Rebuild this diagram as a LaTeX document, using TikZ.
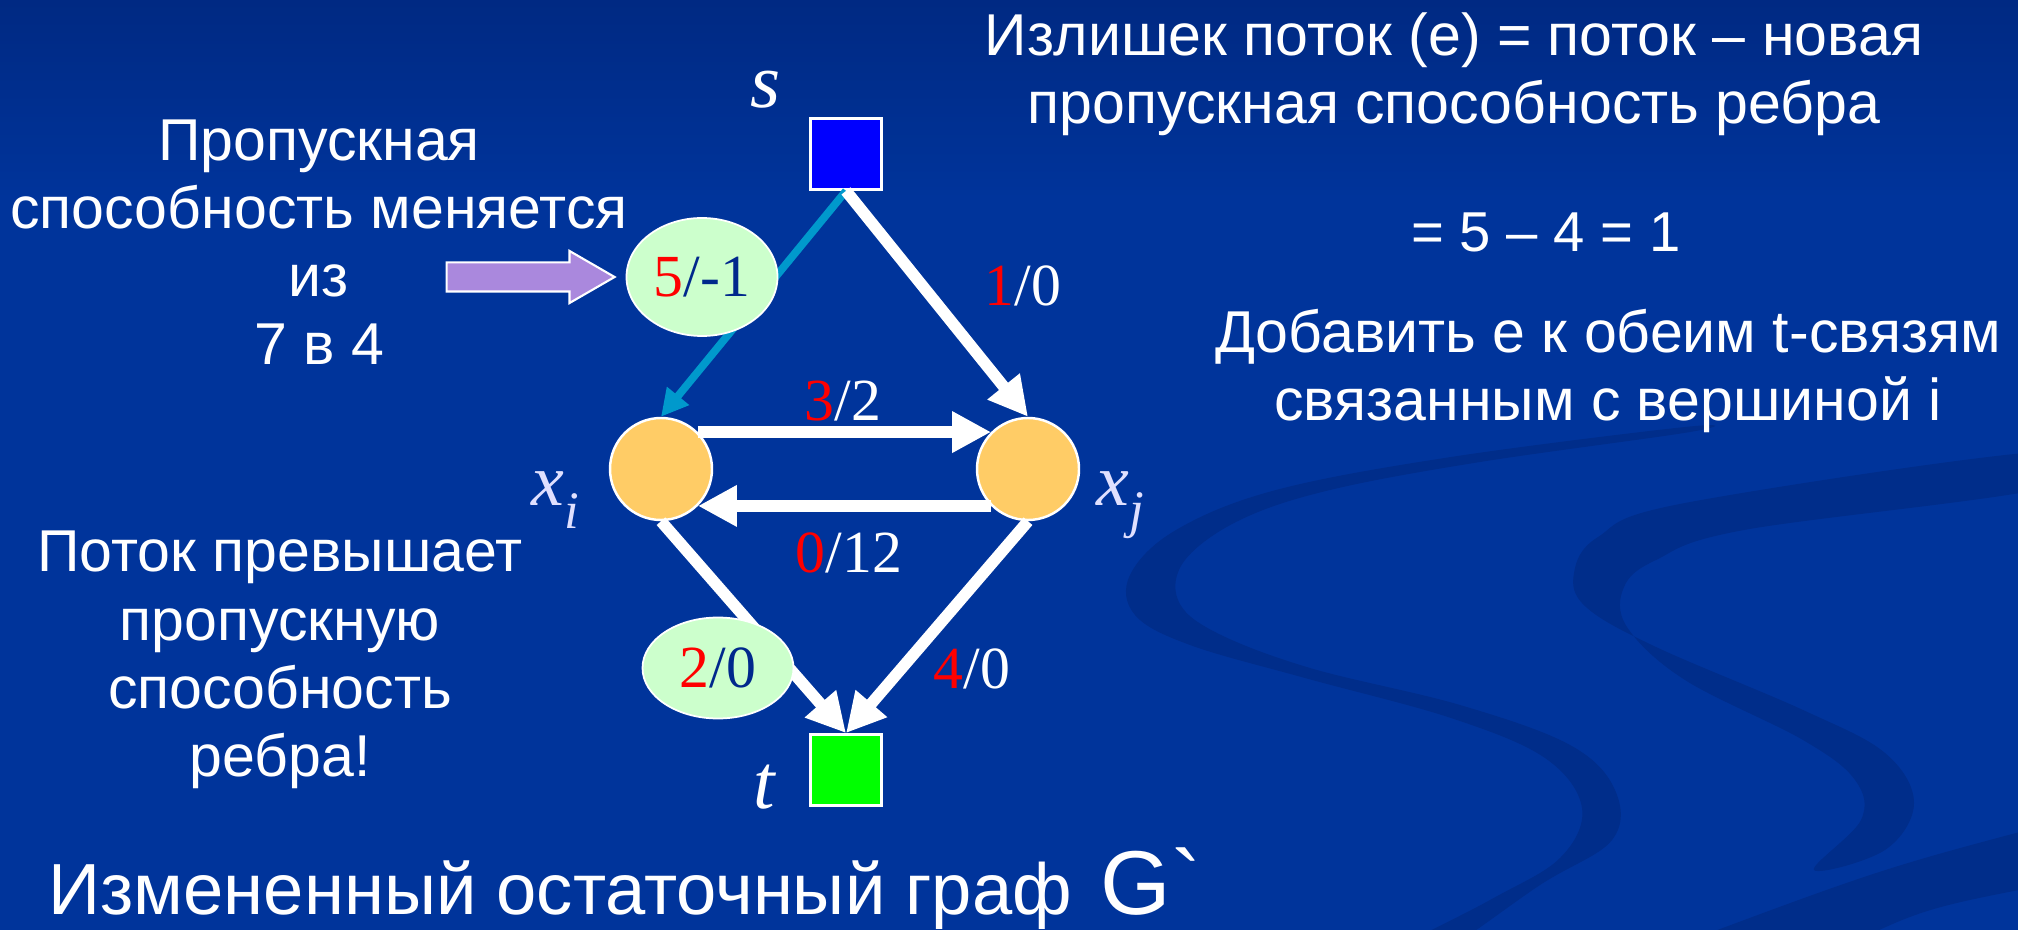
\documentclass[tikz,border=0pt]{standalone}
\usepackage{fontspec}
\setmainfont{Liberation Sans}
\newfontfamily\tnr{Liberation Serif}
\newfontfamily\gfont{Liberation Sans}
\usetikzlibrary{arrows.meta,shapes.geometric,shapes.arrows,positioning}
\definecolor{bgblue}{RGB}{0,52,155}
\definecolor{bgtop}{RGB}{0,40,128}
\definecolor{ribbon}{RGB}{0,45,138}
\definecolor{capred}{RGB}{255,0,0}
\definecolor{capnavy}{RGB}{0,40,140}
\definecolor{nodeorange}{RGB}{255,204,102}
\definecolor{ellgreen}{RGB}{204,255,204}
\definecolor{edgecyan}{RGB}{0,153,204}
\definecolor{arrowpurple}{RGB}{170,136,221}
\definecolor{lavender}{RGB}{224,224,255}

\tikzset{
  vertex/.style={circle,fill=nodeorange,draw=white,line width=0.7pt,minimum size=1.02cm,inner sep=0pt},
  terminal/.style={rectangle,draw=white,line width=0.8pt,minimum size=0.71cm,inner sep=0pt},
  flow/.style={draw=white,line width=3.3pt,-{Triangle[length=0.39cm,width=0.39cm]}},
  capedge/.style={draw=edgecyan,line width=2.2pt,-{Triangle[length=0.27cm,width=0.27cm]}},
  flowlab/.style={text=white,inner sep=1pt,font=\tnr\fontsize{17}{20}\selectfont},
  capbubble/.style={ellipse,fill=ellgreen,draw=white,line width=0.5pt,minimum width=1.51cm,
    inner sep=0pt,text=capnavy,font=\tnr\fontsize{17}{20}\selectfont},
  vlab/.style={text=white,inner sep=0pt,font=\tnr\itshape\fontsize{22}{24}\selectfont},
  xlab/.style={text=lavender,inner sep=0pt,font=\tnr\itshape\fontsize{21}{24}\selectfont},
  slide/.style={text=white,align=center,inner sep=0pt,font=\fontsize{16.8}{19.4}\selectfont}
}
\newcommand{\capnum}[1]{\textcolor{capred}{#1}}
\newcommand{\subx}[2]{#1\raisebox{-0.3em}{\fontsize{15}{15}\selectfont #2}}

\begin{document}
\begin{tikzpicture}
\useasboundingbox (0,0) rectangle (20.18,9.29);
% background and swooshes
\fill[bgblue] (-0.2,-0.2) rectangle (20.4,9.5);
\shade[top color=bgtop,bottom color=bgblue] (-0.2,7.3) rectangle (20.4,9.5);
\begin{scope}
\clip (-0.1,-0.1) rectangle (20.3,9.4);
\fill[ribbon] plot[smooth cycle,tension=0.6] coordinates {(16.85,5.02) (14.51,4.72) (12.76,4.39)
  (11.76,3.99) (11.30,3.54) (11.35,3.14) (11.90,2.84) (13.05,2.51) (14.51,2.11) (15.45,1.71)
  (15.82,1.21) (15.60,0.71) (14.90,0.29) (13.80,-0.30) (14.30,-0.30) (15.40,0.44) (16.12,0.89)
  (16.15,1.39) (15.70,1.84) (14.60,2.24) (13.10,2.61) (12.15,2.97) (11.78,3.29) (11.85,3.69)
  (12.40,4.09) (13.30,4.39) (14.80,4.67) (16.90,4.97)};
\fill[ribbon] plot[smooth cycle,tension=0.6] coordinates {(20.50,4.78) (16.85,4.26) (15.98,3.92)
  (15.74,3.56) (15.86,3.22) (16.56,2.82) (18.03,2.19) (18.85,1.76) (19.14,1.26) (18.85,0.79)
  (18.14,0.59) (18.61,1.09) (18.55,1.49) (18.03,1.89) (16.85,2.49) (16.27,3.02) (16.24,3.42)
  (16.56,3.69) (17.44,3.99) (20.50,4.42)};
\fill[ribbon] (20.5,1.05) .. controls (18.8,0.6) .. (16.4,-0.3) -- (18.2,-0.3)
  .. controls (19.2,0.2) .. (20.5,0.45) -- cycle;
\end{scope}

% graph
\node (s) [terminal,fill=blue] at (8.46,7.75) {};
\node (t) [terminal,fill=green] at (8.46,1.59) {};
\node (xi) [vertex] at (6.61,4.60) {};
\node (xj) [vertex] at (10.28,4.60) {};
\node (slab) [vlab] at (7.66,8.39) {s};
\node (tlab) [vlab] at (7.64,1.42) {t};
\node (xilab) [xlab] at (5.55,4.29) {\subx{x}{i}};
\node (xjlab) [xlab] at (11.20,4.24) {\subx{x}{j}};

\draw[capedge] (s.south) -- (xi.north);
\draw[flow] (s.south) -- (xj.north);
\draw[flow] (xi.45) -- (xj.135);
\draw[flow] (xj.-135) -- (xi.-45);
\draw[flow] (xi.south) -- (t.north);
\draw[flow] (xj.south) -- (t.north);

\node (sxj) [flowlab] at (10.23,6.43) {\capnum{1}/0};
\node (xixj) [flowlab] at (8.43,5.28) {\capnum{3}/2};
\node (xjxi) [flowlab] at (8.49,3.76) {\capnum{0}/12};
\node (xjt) [flowlab] at (9.72,2.60) {\capnum{4}/0};
\node (sxi) [capbubble,minimum height=1.18cm] at (7.02,6.52) {\capnum{5}/-1};
\node (xit) [capbubble,minimum height=1.01cm] at (7.18,2.61) {\capnum{2}/0};

% notes
\node (change) [slide] at (3.19,6.87) {Пропускная\\способность меняется\\из\\7 в 4};
\node (pointer) [single arrow,fill=arrowpurple,draw=white,line width=0.6pt,inner xsep=0pt,
  inner ysep=0.135cm,minimum height=1.68cm,minimum width=0.50cm,single arrow head extend=0.115cm,
  single arrow tip angle=60] at (5.18,6.52) {};
\node (over) [slide] at (2.80,2.69) {Поток превышает\\пропускную\\способность\\ребра!};
\node (excess) [slide] at (14.54,8.55) {Излишек поток (е) = поток – новая\\пропускная способность ребра};
\node (calc) [slide,font=\fontsize{16}{19}\selectfont] at (15.46,6.97) {= 5 – 4 = 1};
\node (add) [slide] at (16.08,5.58) {Добавить е к обеим t-связям\\связанным с вершиной i};
\node (title) [anchor=base west,text=white,inner sep=0pt,font=\fontsize{20.6}{24}\selectfont]
  at (0.48,0.15) {Измененный остаточный граф};
\node (gname) [anchor=base west,text=white,inner sep=0pt,font=\gfont\fontsize{25.8}{30}\selectfont]
  at (11.00,0.15) {G`};
\end{tikzpicture}
\end{document}
